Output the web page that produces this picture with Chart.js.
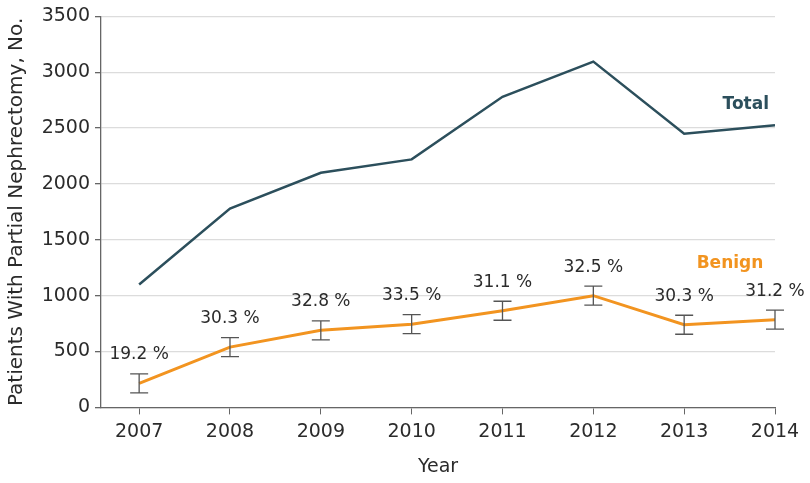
<!DOCTYPE html>
<html>
<head>
<meta charset="utf-8">
<script src="https://cdn.jsdelivr.net/npm/chart.js@4"></script>
<style>
  html, body { margin: 0; padding: 0; background: #fff; }
  #wrap { width: 810px; height: 483px; }
</style>
</head>
<body>
<div id="wrap"><canvas id="chart" width="810" height="483"></canvas></div>
<script>
const years = [2007, 2008, 2009, 2010, 2011, 2012, 2013, 2014];
const totalCounts = [1100, 1780, 2100, 2220, 2780, 3095, 2450, 2525];
const benignCounts = [215, 540, 690, 745, 865, 1000, 740, 785];
const benignLow = [130, 455, 605, 660, 780, 915, 655, 700];
const benignHigh = [300, 625, 775, 830, 950, 1085, 825, 870];
const benignPct = ["19.2 %", "30.3 %", "32.8 %", "33.5 %", "31.1 %", "32.5 %", "30.3 %", "31.2 %"];
const yTicks = [0, 500, 1000, 1500, 2000, 2500, 3000, 3500];

const FONT = "'DejaVu Sans', sans-serif";
const TEXT = "#2b2b2b";
const TOTAL_COLOR = "#2c4f5c";
const BENIGN_COLOR = "#f29420";

// error bars + percent labels + series labels, drawn from the scales
const annotations = {
  id: "annotations",
  afterDatasetsDraw(chart) {
    const { ctx, scales: { x, y } } = chart;
    ctx.save();
    ctx.strokeStyle = "#555";
    ctx.lineWidth = 1.3;
    years.forEach((yr, i) => {
      const px = x.getPixelForValue(yr);
      const top = y.getPixelForValue(benignHigh[i]);
      const bot = y.getPixelForValue(benignLow[i]);
      ctx.beginPath();
      ctx.moveTo(px, top); ctx.lineTo(px, bot);
      ctx.moveTo(px - 9, top); ctx.lineTo(px + 9, top);
      ctx.moveTo(px - 9, bot); ctx.lineTo(px + 9, bot);
      ctx.stroke();

      ctx.fillStyle = TEXT;
      ctx.font = "17px " + FONT;
      ctx.textAlign = "center";
      ctx.textBaseline = "middle";
      ctx.fillText(benignPct[i], px, top - 19);
    });

    ctx.font = "bold 17px " + FONT;
    ctx.textAlign = "right";
    ctx.fillStyle = TOTAL_COLOR;
    ctx.fillText("Total", x.getPixelForValue(2014) - 6, y.getPixelForValue(2710));
    ctx.fillStyle = BENIGN_COLOR;
    ctx.fillText("Benign", x.getPixelForValue(2012) + 170, y.getPixelForValue(1290));
    ctx.restore();
  },
};

new Chart(document.getElementById("chart").getContext("2d"), {
  type: "line",
  data: {
    datasets: [
      {
        label: "Total",
        data: years.map((yr, i) => ({ x: yr, y: totalCounts[i] })),
        borderColor: TOTAL_COLOR,
        borderWidth: 2.5,
        pointRadius: 0,
        tension: 0,
      },
      {
        label: "Benign",
        data: years.map((yr, i) => ({ x: yr, y: benignCounts[i] })),
        borderColor: BENIGN_COLOR,
        borderWidth: 3,
        pointRadius: 0,
        tension: 0,
      },
    ],
  },
  options: {
    responsive: false,
    animation: false,
    layout: { padding: { left: 5, right: 35, top: 15, bottom: 1 } },
    plugins: { legend: { display: false }, tooltip: { enabled: false } },
    scales: {
      x: {
        type: "linear",
        min: 2006.58,
        max: 2014,
        afterBuildTicks: axis => { axis.ticks = years.map(v => ({ value: v })); },
        ticks: { color: TEXT, font: { size: 19, family: FONT }, padding: 6, callback: v => String(v) },
        grid: { drawOnChartArea: false, drawTicks: true, tickLength: 7, tickColor: "#666" },
        border: { color: "#666", width: 1.3 },
        title: { display: true, text: "Year", color: TEXT, font: { size: 19, family: FONT }, padding: { top: 6 } },
      },
      y: {
        min: 0,
        max: 3500,
        afterBuildTicks: axis => { axis.ticks = yTicks.map(v => ({ value: v })); },
        afterFit: axis => { axis.width = 96; },
        ticks: { color: TEXT, font: { size: 19, family: FONT }, padding: 5, callback: v => String(v) },
        grid: { color: "#dcdcdc", lineWidth: 1.3, tickLength: 6, tickColor: "#666" },
        border: { color: "#666", width: 1.3 },
        title: { display: true, text: "Patients With Partial Nephrectomy, No.", color: TEXT, font: { size: 20, family: FONT }, padding: 0 },
      },
    },
  },
  plugins: [annotations],
});
</script>
</body>
</html>
